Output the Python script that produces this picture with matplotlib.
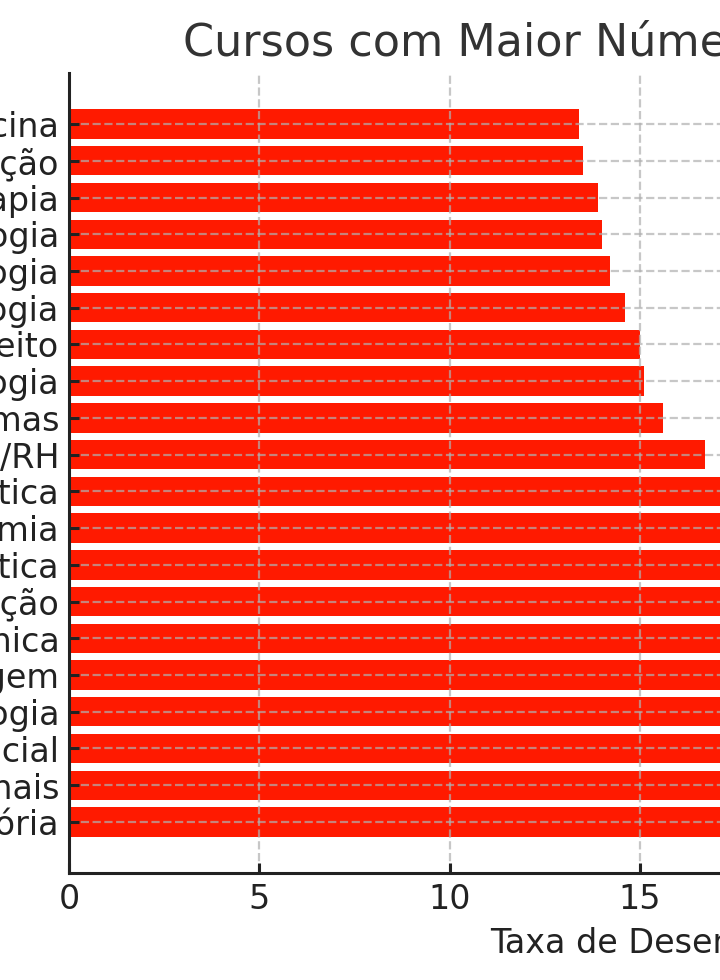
import matplotlib
matplotlib.use("Agg")
import matplotlib.pyplot as plt

# Data (bottom to top, as drawn by barh)
cursos = [
    "História",
    "Relações Internacionais",
    "Serviço Social",
    "Geologia",
    "Enfermagem",
    "Engenharia Mecânica",
    "Comunicação",
    "Estatística",
    "Agronomia",
    "Matemática",
    "Gestão de Pessoas/RH",
    "Análise de Sistemas",
    "Pedagogia",
    "Direito",
    "Biologia",
    "Psicologia",
    "Odontologia",
    "Fisioterapia",
    "Administração",
    "Medicina",
]
taxas = [31.6, 28.4, 26.0, 24.3, 22.8, 21.5, 20.3, 19.4, 18.6, 17.9,
         16.7, 15.6, 15.1, 15.0, 14.6, 14.2, 14.0, 13.9, 13.5, 13.4]
titulo = "Cursos com Maior Número de Desempregados"
rotulo_x = "Taxa de Desemprego (%)"
xticks = [0, 5, 10, 15, 20, 25, 30]

DPI = 200
W, H = 720, 980
fig = plt.figure(figsize=(W / DPI, H / DPI), dpi=DPI, facecolor="white")
ax = fig.add_axes([0, 0, 1, 1])
ax.set_facecolor("white")

ax.barh(cursos, taxas, color="#FF1A00", height=0.8)

# layout: keep the original scale; the chart extends beyond the visible window
xmax = ax.get_xlim()[1]
px_per_unit = 38.07
left_px, bottom_px, top_px = 69, 107, 73
ax.set_position([left_px / W, bottom_px / H, xmax * px_per_unit / W,
                 (H - top_px - bottom_px) / H])

ax.set_xticks(xticks)
ax.set_title(titulo, fontsize=16, color="#333333")
ax.set_xlabel(rotulo_x, fontsize=12, color="#222222")
ax.tick_params(axis="both", labelsize=12, direction="in", length=3.5,
               width=1.1, colors="#222222")
for s in ["top", "right"]:
    ax.spines[s].set_visible(False)
for s in ["left", "bottom"]:
    ax.spines[s].set_linewidth(1.1)
    ax.spines[s].set_color("#222222")
    ax.spines[s].set_zorder(4)

ax.set_axisbelow(False)
ax.grid(True, linestyle="--", linewidth=0.8, color="#b0b0b0", alpha=0.7)

fig.savefig("out.png", dpi=DPI, facecolor="white")
